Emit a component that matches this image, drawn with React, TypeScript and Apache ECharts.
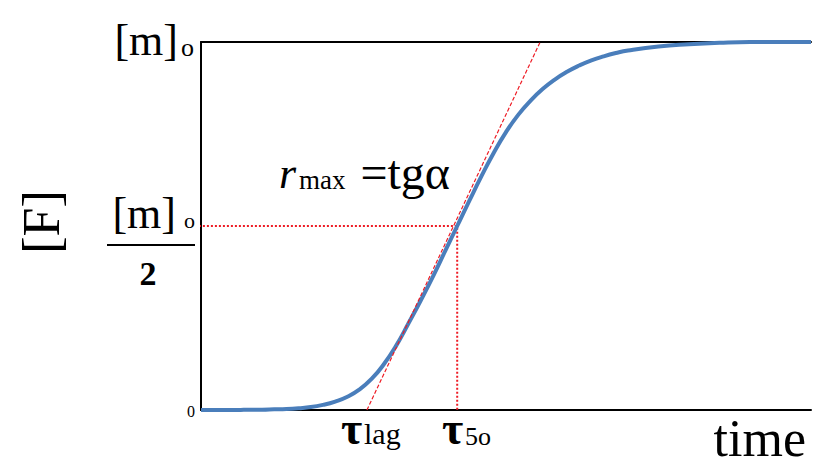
import React, { useEffect, useRef } from "react";
import * as echarts from "echarts";

// time axis (arbitrary units 0..100) and fraction of [m]0 converted
const curveT = [0, 2, 4, 6, 8, 10, 12, 14, 16, 18, 20, 22, 24, 26, 28, 30, 32, 34, 36, 38, 40, 42, 44, 46, 48, 50, 52, 54, 56, 58, 60, 62, 64, 66, 68, 70, 75, 80, 85, 90, 95, 100];
const curveY = [0, 0, 0, 0, 0.001, 0.001, 0.002, 0.003, 0.005, 0.008, 0.014, 0.023, 0.036, 0.056, 0.085, 0.125, 0.175, 0.235, 0.297, 0.362, 0.431, 0.5, 0.569, 0.636, 0.699, 0.755, 0.802, 0.84, 0.872, 0.898, 0.919, 0.936, 0.95, 0.961, 0.97, 0.977, 0.988, 0.994, 0.998, 1.0, 1.0, 1.0];

const tangentT = [27.2, 55.6];
const tangentY = [0, 1];

const guideT = [-1, 42, 42];
const guideY = [0.5, 0.5, 0];

const SERIF = "'Liberation Serif', 'DejaVu Serif', serif";

export default function App() {
  const ref = useRef<HTMLDivElement>(null);
  useEffect(() => {
    if (!ref.current) return;
    const chart = echarts.init(ref.current, null, { renderer: "svg" });
    const txt = (x: number, y: number, text: string, size: number, align: string, extra: any = {}) => ({
      type: "text",
      x,
      y,
      style: {
        text,
        fontSize: size,
        fontFamily: SERIF,
        fill: "#000",
        align,
        verticalAlign: "middle",
        ...extra,
      },
      z: 100,
    });
    chart.setOption({
      animation: false,
      backgroundColor: "#fff",
      grid: { left: 201, right: 2, top: 42, bottom: 55, containLabel: false },
      xAxis: [
        {
          type: "value",
          min: 0,
          max: 100,
          axisLine: { show: true, lineStyle: { color: "#000", width: 2 } },
          axisTick: { show: false },
          axisLabel: { show: false },
          splitLine: { show: false },
        },
        {
          type: "value",
          position: "top",
          min: 0,
          max: 100,
          axisLine: { show: true, lineStyle: { color: "#000", width: 2 } },
          axisTick: { show: false },
          axisLabel: { show: false },
          splitLine: { show: false },
        },
      ],
      yAxis: {
        type: "value",
        min: 0,
        max: 1,
        axisLine: { show: true, lineStyle: { color: "#000", width: 2 } },
        axisTick: { show: false },
        axisLabel: { show: false },
        splitLine: { show: false },
      },
      series: [
        {
          type: "line",
          data: guideT.map((t, i) => [t, guideY[i]]),
          showSymbol: false,
          clip: false,
          lineStyle: { color: "#ee1c25", width: 2, type: [2, 2] },
          z: 2,
        },
        {
          type: "line",
          data: curveT.map((t, i) => [t, curveY[i]]),
          smooth: 0.5,
          showSymbol: false,
          lineStyle: { color: "#4a7ebb", width: 4 },
          z: 3,
        },
        {
          type: "line",
          data: tangentT.map((t, i) => [t, tangentY[i]]),
          showSymbol: false,
          lineStyle: { color: "#ee1c25", width: 1.2, type: [4, 2] },
          z: 4,
        },
      ],
      graphic: [
        txt(178, 40, "[m]", 44, "right"),
        txt(181, 47, "o", 26, "left"),
        {
          type: "text",
          x: 41,
          y: 222,
          rotation: Math.PI / 2,
          style: {
            text: "[F]",
            fontSize: 52,
            fontFamily: SERIF,
            fill: "#000",
            align: "center",
            verticalAlign: "middle",
          },
        },
        txt(176, 213, "[m]", 44, "right"),
        txt(184, 220, "o", 22, "left"),
        { type: "rect", shape: { x: 107, y: 244, width: 88, height: 2 }, style: { fill: "#000" } },
        txt(148, 273, "2", 34, "center", { fontWeight: "bold" }),
        txt(191, 411, "0", 16, "center"),
        txt(341, 428, "\u03c4", 46, "left", { fontWeight: "bold" }),
        txt(364, 433, "lag", 30, "left"),
        txt(442, 428, "\u03c4", 46, "left", { fontWeight: "bold" }),
        txt(465, 436, "5o", 26, "left"),
        txt(806, 438, "time", 52, "right"),
        txt(279, 173, "r", 44, "left", { fontStyle: "italic" }),
        txt(299, 180, "max", 27, "left"),
        txt(450, 172, "=tg\u03b1", 48, "right"),
      ],
    });
    return () => chart.dispose();
  }, []);
  return <div ref={ref} style={{ position: "absolute", left: 0, top: 0, width: 813, height: 465 }} />;
}
